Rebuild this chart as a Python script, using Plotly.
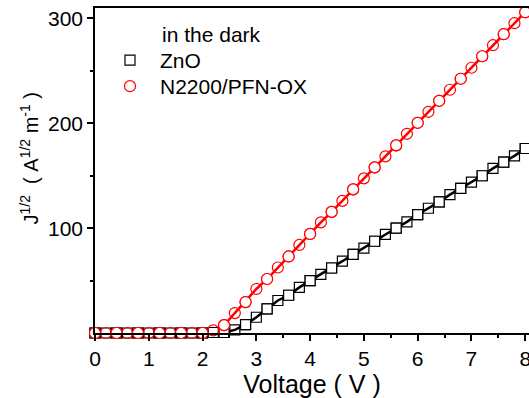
import plotly.graph_objects as go

voltage = [round(0.2 * i, 1) for i in range(41)]
zno = [0, 0, 0, 0, 0, 0, 0, 0, 0, 0, 0, 0.5, 0.5, 3, 8, 15, 23, 31, 36, 43.5, 50, 56,
       62, 68.5, 75, 81, 87.5, 94, 100, 106, 113, 119, 125, 132, 138, 144, 150, 157,
       163, 169, 176]
n2200 = [0, 0, 0, 0, 0, 0, 0, 0, 0, 0, 0, 2.5, 7.5, 19, 29.5, 42, 51.5, 62.5, 73, 84,
         94.5, 105.5, 115.5, 126, 137, 147.5, 158, 168.5, 179, 190, 200.5, 211, 221.5,
         232, 242.5, 253, 264, 274.5, 285, 295.5, 306]
fit_start = 12

FONT = "Liberation Sans"
fig = go.Figure()

for ys, color, sym, size, name, leg in [
    (zno, "black", "square", 10, "ZnO", "legend"),
    (n2200, "red", "circle", 11, "N2200/PFN-OX", "legend2"),
]:
    fig.add_trace(go.Scatter(x=voltage[fit_start:], y=ys[fit_start:], mode="lines",
                             line=dict(color=color, width=2.5), showlegend=False,
                             cliponaxis=False, hoverinfo="skip"))
    fig.add_trace(go.Scatter(x=voltage, y=ys, mode="markers", name=name, legend=leg,
                             marker=dict(symbol=sym, size=size, color="rgba(0,0,0,0)",
                                         line=dict(color=color, width=1.2)),
                             cliponaxis=False))
    fig.add_trace(go.Scatter(x=voltage[::2], y=ys[::2], mode="markers", showlegend=False,
                             marker=dict(symbol=sym, size=size, color="white",
                                         line=dict(color=color, width=1.2)),
                             cliponaxis=False))

fig.add_annotation(text="in the dark", xref="paper", yref="paper", x=0.15, y=0.917,
                   xanchor="left", yanchor="middle", showarrow=False,
                   font=dict(size=21, color="black", family=FONT))

# y-axis title
fig.add_annotation(text="J<sup>1/2</sup>&nbsp;&nbsp;(&nbsp;A<sup>1/2</sup>&nbsp;m<sup>-1</sup>&nbsp;)",
                   xref="paper", yref="paper", x=(29 - 95) / 434, y=0.537,
                   xanchor="center", yanchor="middle", textangle=-90, showarrow=False,
                   font=dict(size=20, color="black", family=FONT))

legend_common = dict(xanchor="left", yanchor="top", bgcolor="rgba(0,0,0,0)",
                     font=dict(size=21, family=FONT, color="black"), itemwidth=50)

fig.update_layout(
    width=529, height=398,
    margin=dict(l=95, r=0, t=8, b=65),
    paper_bgcolor="white", plot_bgcolor="white",
    font=dict(family=FONT, size=21, color="black"),
    showlegend=True,
    legend=dict(x=0.0115, y=0.9015, **legend_common),
    legend2=dict(x=0.0115, y=0.8215, **legend_common),
    xaxis=dict(range=[0, 8.07], tickvals=list(range(9)), showgrid=False, zeroline=False,
               showline=True, linecolor="black", linewidth=1.5, mirror=True,
               ticks="outside", ticklen=6, tickwidth=1.5, tickcolor="black",
               ticklabeloverflow="allow", automargin=False,
               minor=dict(tickvals=[i + 0.5 for i in range(8)], ticks="outside",
                          ticklen=3, tickwidth=1.5, tickcolor="black"),
               title=dict(text="Voltage ( V )", standoff=4)),
    yaxis=dict(range=[0, 310], tickvals=[100, 200, 300], showgrid=False, zeroline=False,
               showline=True, linecolor="black", linewidth=1.5, mirror=True,
               ticks="outside", ticklen=6, tickwidth=1.5, tickcolor="black",
               automargin=False,
               minor=dict(tickvals=[50, 150, 250], ticks="outside",
                          ticklen=3, tickwidth=1.5, tickcolor="black")),
)

fig.write_html("out.html")
